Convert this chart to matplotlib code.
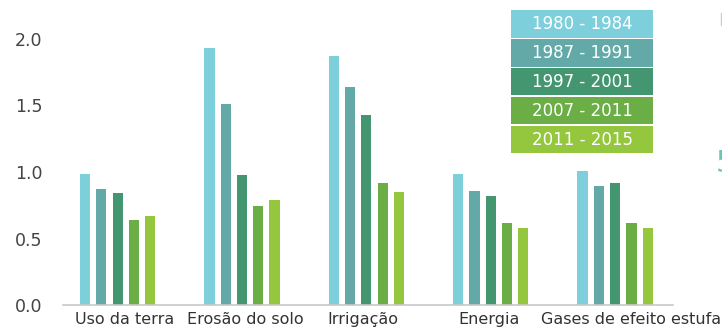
import matplotlib
matplotlib.use("Agg")
import matplotlib.pyplot as plt
from matplotlib.patches import Rectangle
import numpy as np

categories = ["Uso da terra", "Erosão do solo", "Irrigação", "Energia", "Gases de efeito estufa"]
periods = ["1980 - 1984", "1987 - 1991", "1997 - 2001", "2007 - 2011", "2011 - 2015"]
v1980 = [0.985, 1.93, 1.87, 0.985, 1.005]
v1987 = [0.872, 1.51, 1.64, 0.86, 0.895]
v1997 = [0.84, 0.977, 1.43, 0.817, 0.915]
v2007 = [0.637, 0.747, 0.92, 0.62, 0.614]
v2011 = [0.669, 0.79, 0.85, 0.58, 0.58]
series = [v1980, v1987, v1997, v2007, v2011]
colors = ["#7ecfdc", "#62a9a7", "#43966f", "#6aae45", "#94c73e"]
yticks = [0.0, 0.5, 1.0, 1.5, 2.0]

W, H = 722, 330
fig = plt.figure(figsize=(W / 100, H / 100), dpi=100)
ax = fig.add_axes([63 / W, 25 / H, 610 / W, 266 / H])

x = np.arange(len(categories))
step = 0.131
width = 0.082
for j, (vals, c) in enumerate(zip(series, colors)):
    ax.bar(x + (j - 2) * step, vals, width=width, color=c, edgecolor="none", zorder=2)

ax.set_xlim(-0.439, 4.465)
ax.set_ylim(0, 2.0)

# tick label centres (layout offsets)
label_shift = [0.055, 0.024, -0.027, -0.014, 0.127]
ax.set_xticks(x + np.array(label_shift))
ax.set_xticklabels(categories, fontsize=11.5, color="#333333")
ax.set_yticks(yticks)
ax.set_yticklabels([f"{t:.1f}" for t in yticks], fontsize=12.5, color="#444444")
ax.tick_params(axis="both", length=0)
ax.tick_params(axis="x", pad=5)
ax.tick_params(axis="y", pad=15)

for s in ["top", "right", "left"]:
    ax.spines[s].set_visible(False)
ax.spines["bottom"].set_color("#c8c8c8")
ax.spines["bottom"].set_linewidth(1.2)
ax.set_facecolor("none")

# legend boxes
bx0, bx1 = 511, 653
top0, bh, period = 10, 27.5, 29.0
for j, (lab, c) in enumerate(zip(periods, colors)):
    ytop = top0 + j * period
    fig.patches.append(Rectangle((bx0 / W, 1 - (ytop + bh) / H), (bx1 - bx0) / W, bh / H,
                                 transform=fig.transFigure, facecolor=c, edgecolor="none"))
    fig.text((bx0 + bx1) / 2 / W, 1 - (ytop + bh / 2) / H, lab, ha="center", va="center",
             color="white", fontsize=12)

# cropped fragments at right edge
fig.text(716 / W, 1 - 164 / H, "5", ha="left", va="center", color="#6cc6b4", fontsize=22)
fig.add_artist(plt.Line2D([721 / W, 721 / W], [1 - 13 / H, 1 - 25 / H],
                          transform=fig.transFigure, color="#cccccc", lw=1))

fig.savefig("out.png", dpi=100)
